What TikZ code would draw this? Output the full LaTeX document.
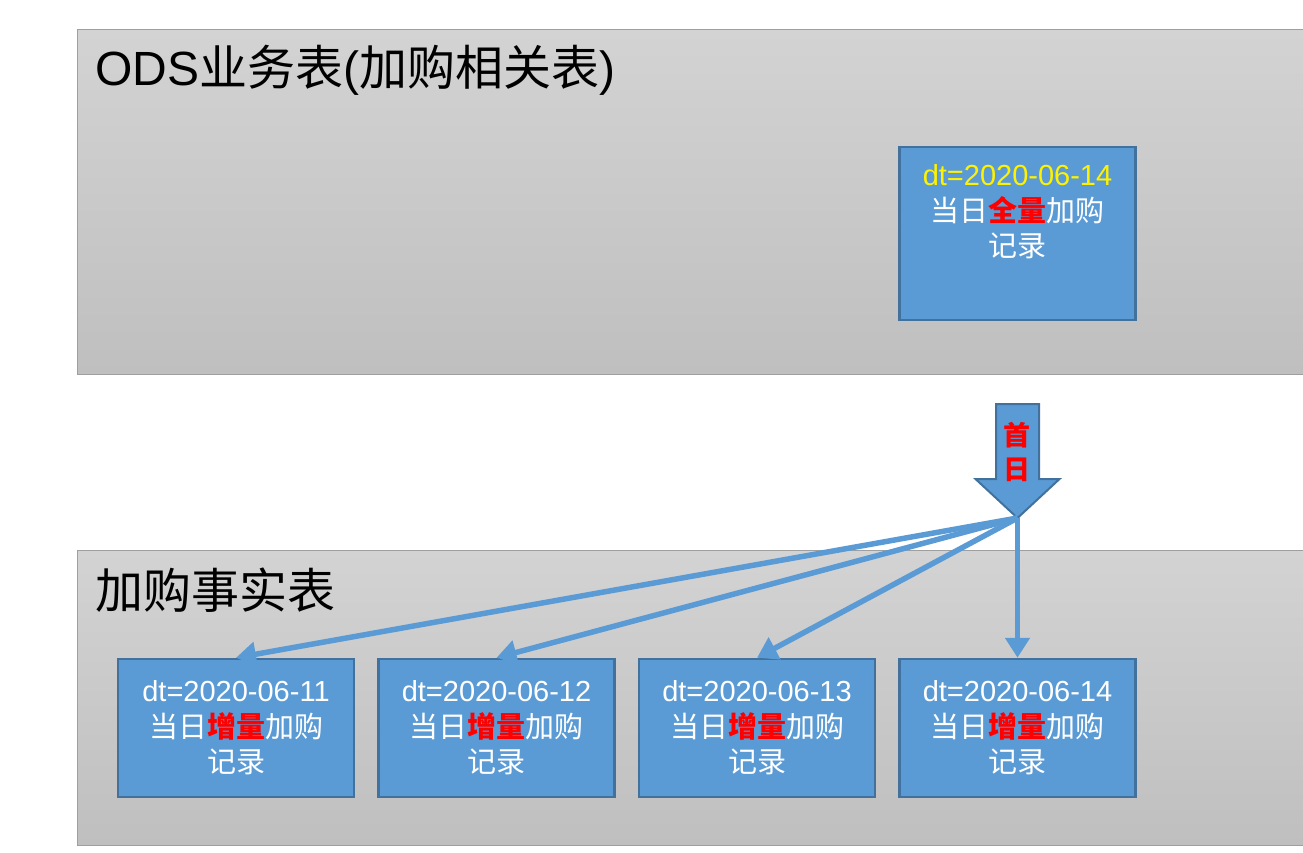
\documentclass[tikz,border=0pt]{standalone}
\usepackage{fontspec}
\setmainfont{Liberation Sans}
\newfontfamily\cjk{Noto Sans CJK SC}
\usetikzlibrary{arrows.meta}
\definecolor{boxblue}{HTML}{5B9BD5}
\definecolor{boxline}{HTML}{41719C}
\definecolor{paneltop}{HTML}{D3D3D3}
\definecolor{panelbot}{HTML}{BFBFBF}
\newcommand{\zh}[1]{{\cjk #1}}
\newcommand{\hl}[1]{{\cjk\bfseries\color{red}#1}}

\begin{document}
\begin{tikzpicture}[x=1pt,y=-1pt]
\tikzstyle{every node}+=[inner sep=0pt]
\tikzstyle{panel}=[draw=gray!75, line width=1pt, top color=paneltop, bottom color=panelbot, anchor=north west]
\tikzstyle{rec}=[draw=boxline, line width=2.5pt, fill=boxblue, minimum width=236pt, minimum height=138pt, text=white, align=center, font=\fontsize{29}{35.5}\selectfont]
\tikzstyle{conn}=[draw=boxblue, line width=5.5pt, -{Triangle[length=20pt,width=24pt]}]
\useasboundingbox (0,0) rectangle (1303,853);
\clip (0,0) rectangle (1303,853);
% the two panels
\node[panel, minimum width=1240pt, minimum height=345pt] (ods) at (77,29) {};
\node[anchor=west, font=\fontsize{48}{54}\selectfont] (odstitle) at (95,70) {ODS\zh{业务表}(\zh{加购相关表})};
\node[panel, minimum width=1240pt, minimum height=295pt] (fact) at (77,550) {};
\node[anchor=west, font=\fontsize{48}{54}\selectfont] (facttitle) at (95,590) {\zh{加购事实表}};
% full snapshot in the ODS table
\node[rec, minimum height=173pt] (full) at (1017.5,233.5) {};
\node[text=white, align=center, font=\fontsize{29}{35.5}\selectfont] (fulltext) at (1017.5,212) {\textcolor{yellow}{dt=2020-06-14}\\\zh{当日}\hl{全量}\zh{加购}\\\zh{记录}};
% first day arrow
\draw[draw=boxline, line width=2pt, fill=boxblue] (996,404) -- (1039,404) -- (1039,479) -- (1059.5,479) -- (1017.5,518) -- (975.5,479) -- (996,479) -- cycle;
\coordinate (tip) at (1017.5,518);
\node[align=center, font=\fontsize{27}{34.5}\selectfont] (first) at (1017,452) {\hl{首}\\\hl{日}};
% daily increments
\foreach \d/\x in {11/236,12/496.5,13/757,14/1017.5}{
  \node[rec] (d\d) at (\x,728) {dt=2020-06-\d\\\zh{当日}\hl{增量}\zh{加购}\\\zh{记录}};
  \draw[conn] (tip) -- (d\d.north);
}
\end{tikzpicture}
\end{document}
